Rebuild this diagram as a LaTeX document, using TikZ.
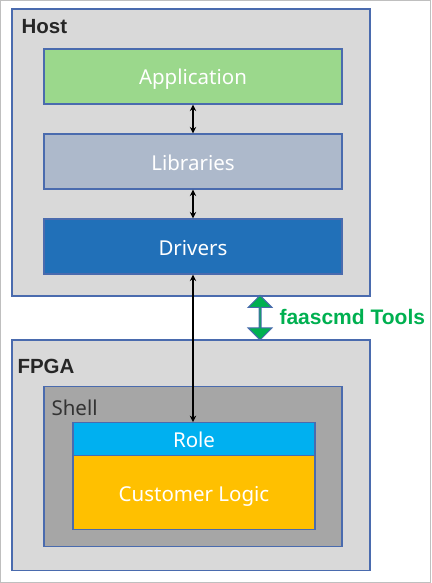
\documentclass[tikz,border=0pt]{standalone}
\usepackage{fontspec}
\setmainfont{Noto Sans}
\newfontfamily\titlefont{Liberation Sans}
\usetikzlibrary{arrows.meta,shapes.arrows}
\definecolor{hostfill}{HTML}{D9D9D9}
\definecolor{boxline}{HTML}{4A6BAE}
\definecolor{appfill}{HTML}{9BD88C}
\definecolor{libfill}{HTML}{ADB9CB}
\definecolor{drvfill}{HTML}{2170B8}
\definecolor{shellfill}{HTML}{A6A6A6}
\definecolor{rolefill}{HTML}{00B0F0}
\definecolor{custfill}{HTML}{FFC000}
\definecolor{toolgreen}{HTML}{00B050}
\definecolor{framegray}{HTML}{BFBFBF}
\tikzset{
  container/.style={draw=boxline, line width=1.2pt, fill=hostfill},
  layer/.style={draw=boxline, line width=1.2pt, text=white, font=\fontsize{20.5}{24}\selectfont, text height=17pt, text depth=0pt},
  title/.style={font=\titlefont\fontsize{20.5}{24}\selectfont\bfseries, anchor=west, text=black!85},
  link/.style={line width=1.6pt, {Stealth[length=6.5pt,width=6.5pt]}-{Stealth[length=6.5pt,width=6.5pt]}},
}
\begin{document}
\begin{tikzpicture}[x=1pt,y=-1pt]
\useasboundingbox (0,0) rectangle (431,583);
\draw[framegray, line width=1pt] (0.5,0.5) rectangle (430.5,582.5);
% Host
\draw[container] (12,9) rectangle (370,296);
\node[title] (hostlbl) at (18,27) {Host};
\node[layer, fill=appfill, minimum width=298pt, minimum height=55pt] (app) at (193,76.5) {Application};
\node[layer, fill=libfill, minimum width=298pt, minimum height=55pt] (lib) at (193,161.5) {Libraries};
\node[layer, fill=drvfill, minimum width=298pt, minimum height=55pt] (drv) at (193,246.5) {Drivers};
% FPGA
\draw[container] (12,340) rectangle (370,570.5);
\node[title] (fpgalbl) at (14,366.5) {FPGA};
\node[draw=boxline, line width=1.2pt, fill=shellfill, minimum width=298pt, minimum height=160pt] (shell) at (193,466.7) {};
\node[anchor=west, text=black!80, font=\fontsize{20.5}{24}\selectfont, text height=17pt, text depth=0pt] (shelllbl) at (48,407) {Shell};
\node[layer, fill=rolefill, minimum width=242pt, minimum height=33pt] (role) at (194,439.2) {Role};
\node[layer, fill=custfill, minimum width=242pt, minimum height=73.6pt] (cust) at (194,492.5) {Customer Logic};
% connectors
\draw[link] (app.south -| 193,0) -- (lib.north -| 193,0);
\draw[link] (lib.south -| 193,0) -- (drv.north -| 193,0);
\draw[link] (drv.south -| 193,0) -- (role.north -| 193,0);
% tools arrow
\node[double arrow, draw=boxline, line width=1pt, fill=toolgreen, minimum height=44.5pt, minimum width=24pt, double arrow head extend=5.5pt, inner sep=0pt, shape border rotate=90] (tools) at (260,317.7) {};
\node[anchor=west, text=toolgreen, font=\titlefont\fontsize{21}{24}\selectfont\bfseries] (toolslbl) at (276,316.7) {faascmd Tools};
\end{tikzpicture}
\end{document}
